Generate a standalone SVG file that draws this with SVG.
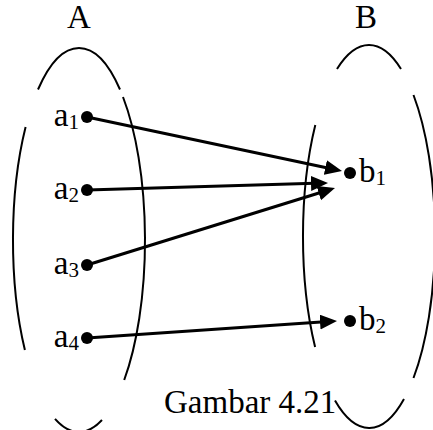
<svg xmlns="http://www.w3.org/2000/svg" width="433" height="430" viewBox="0 0 433 430">
<style>
.arc{fill:none;stroke:#000;stroke-width:2}
.edge{fill:none;stroke:#000;stroke-width:3}
.lbl{font-family:"Liberation Serif","Times New Roman",serif;font-size:33px;fill:#000}
.sub{font-size:21px}
.dot{fill:#000}
</style>
<defs>
<marker id="ah" markerUnits="userSpaceOnUse" markerWidth="18" markerHeight="16" refX="12" refY="7.5" orient="auto">
<path d="M0,0 L17,7.5 L0,15 z" fill="#000"/>
</marker>
</defs>
<rect width="433" height="430" fill="#fff"/>
<g id="setA">
<path class="arc" d="M38,89.5 A66,192 0 0 1 120,89.5"/>
<path class="arc" d="M25.6,127 A66,192 0 0 0 24.9,350"/>
<path class="arc" d="M123,97 A66,192 0 0 1 124.2,380"/>
<path class="arc" d="M55,418.9 A66,192 0 0 0 102,420"/>
<text class="lbl" x="79" y="28" text-anchor="middle">A</text>
</g>
<g id="setB">
<path class="arc" d="M337,69 A66,191.5 0 0 1 401,69"/>
<path class="arc" d="M315.3,125 A66,191.5 0 0 0 315.1,347"/>
<path class="arc" d="M413.5,95 A66,191.5 0 0 1 413.5,378"/>
<path class="arc" d="M335,400.6 A66,191.5 0 0 0 404,398.9"/>
<text class="lbl" x="366" y="28" text-anchor="middle">B</text>
</g>
<g id="a1"><circle class="dot" cx="87" cy="117" r="6"/><text class="lbl" x="79" y="126" text-anchor="end">a<tspan class="sub" dy="3">1</tspan></text></g>
<g id="a2"><circle class="dot" cx="87" cy="190" r="6"/><text class="lbl" x="79" y="199" text-anchor="end">a<tspan class="sub" dy="3">2</tspan></text></g>
<g id="a3"><circle class="dot" cx="87" cy="265" r="6"/><text class="lbl" x="79" y="274" text-anchor="end">a<tspan class="sub" dy="3">3</tspan></text></g>
<g id="a4"><circle class="dot" cx="87" cy="338" r="6"/><text class="lbl" x="79" y="347" text-anchor="end">a<tspan class="sub" dy="3">4</tspan></text></g>
<g id="b1"><circle class="dot" cx="350" cy="173" r="6"/><text class="lbl" x="359" y="182">b<tspan class="sub" dy="3">1</tspan></text></g>
<g id="b2"><circle class="dot" cx="350" cy="321" r="6"/><text class="lbl" x="359" y="330">b<tspan class="sub" dy="3">2</tspan></text></g>
<g id="connectors">
<line class="edge" x1="87" y1="117" x2="337.1" y2="170" marker-end="url(#ah)"/>
<line class="edge" x1="87" y1="190" x2="323" y2="183.1" marker-end="url(#ah)"/>
<line class="edge" x1="87" y1="265" x2="330.2" y2="189.5" marker-end="url(#ah)"/>
<line class="edge" x1="87" y1="338" x2="332" y2="321.3" marker-end="url(#ah)"/>
</g>
<text id="caption" class="lbl" x="164" y="413">Gambar 4.21</text>
</svg>
